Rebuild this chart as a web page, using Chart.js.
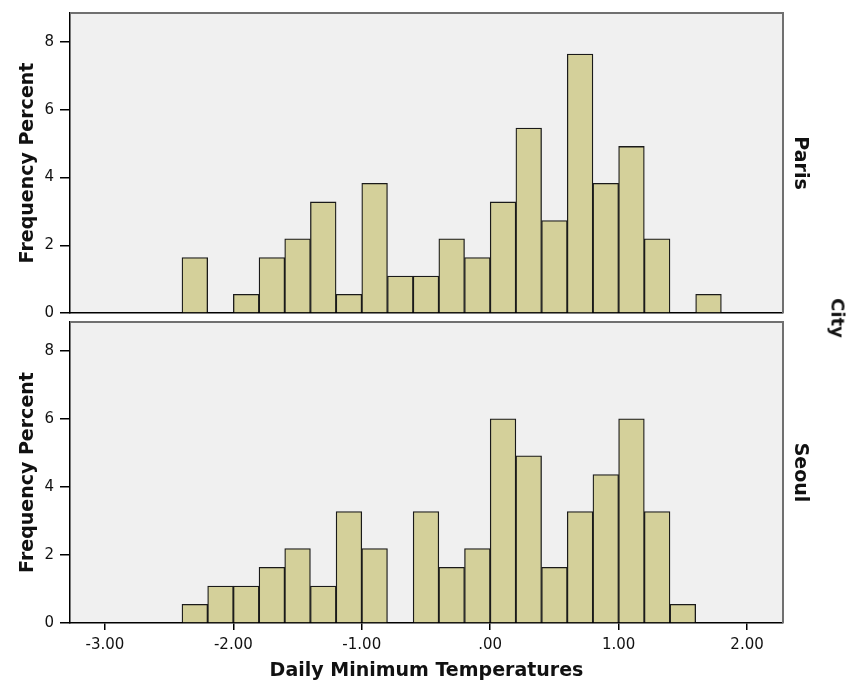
<!DOCTYPE html>
<html><head><meta charset="utf-8">
<script src="https://cdn.jsdelivr.net/npm/chart.js@4"></script>
<style>
html,body{margin:0;padding:0;background:#fff;}
#wrap{position:relative;width:858px;height:687px;overflow:hidden;background:#fff;}
.box{position:absolute;left:0;width:858px;}
#city{position:absolute;left:838px;top:318px;transform:translate(-50%,-50%) rotate(90deg);font:bold 18px "DejaVu Sans";color:#111;white-space:nowrap;}
</style></head><body>
<div id="wrap">
<div class="box" style="top:0;height:318px"><canvas id="paris"></canvas></div>
<div class="box" style="top:318px;height:369px"><canvas id="seoul"></canvas></div>
<div id="city">City</div>
</div>
<script>
// ---- data ----
const binCenters = [-2.3,-2.1,-1.9,-1.7,-1.5,-1.3,-1.1,-0.9,-0.7,-0.5,-0.3,-0.1,0.1,0.3,0.5,0.7,0.9,1.1,1.3,1.5,1.7];
const parisPercent = [1.64,0,0.55,1.64,2.19,3.28,0.55,3.83,1.09,1.09,2.19,1.64,3.28,5.46,2.73,7.65,3.83,4.92,2.19,0,0.55];
const seoulPercent = [0.55,1.09,1.09,1.64,2.19,1.09,3.28,2.19,0,3.28,1.64,2.19,6.01,4.92,1.64,3.28,4.37,6.01,3.28,0.55,0];
const xTickValues = [-3,-2,-1,0,1,2];
const xTickLabels = ['-3.00','-2.00','-1.00','.00','1.00','2.00'];
const yTickValues = [0,2,4,6,8];
const panelNames = ['Paris','Seoul'];
const xTitle = 'Daily Minimum Temperatures';
const yTitle = 'Frequency Percent';

const FONT = 'DejaVu Sans';
Chart.defaults.font.family = FONT;
Chart.defaults.color = '#111';

const framePlugin = {
  id: 'panelFrame',
  beforeDraw(chart) {
    const {ctx, chartArea: a} = chart;
    ctx.save();
    ctx.fillStyle = '#f0f0f0';
    ctx.fillRect(a.left, a.top, a.right - a.left, a.bottom - a.top);
    ctx.restore();
  },
  afterDatasetsDraw(chart) {
    const {ctx, chartArea: a} = chart;
    ctx.save();
    ctx.strokeStyle = '#707070';
    ctx.lineWidth = 2;
    ctx.beginPath();
    ctx.moveTo(a.left, a.top);
    ctx.lineTo(a.right, a.top);
    ctx.lineTo(a.right, a.bottom);
    ctx.stroke();
    ctx.restore();
  }
};

function makePanel(id, values, name, isBottom) {
  const data = binCenters.map((x, i) => ({x: x, y: values[i]}));
  const nonZero = c => c.raw && c.raw.y > 0;
  return new Chart(document.getElementById(id), {
    type: 'bar',
    data: { datasets: [{
      data: data,
      backgroundColor: c => nonZero(c) ? '#d4d09a' : 'rgba(0,0,0,0)',
      borderColor: '#1a1a1a',
      borderWidth: c => nonZero(c) ? 1.3 : 0,
      barPercentage: 1,
      categoryPercentage: 1
    }]},
    options: {
      responsive: true,
      maintainAspectRatio: false,
      animation: false,
      devicePixelRatio: 1,
      layout: { padding: { top: isBottom ? 4 : 13, left: 0, right: 0, bottom: 0 } },
      plugins: { legend: { display: false }, tooltip: { enabled: false } },
      scales: {
        x: {
          type: 'linear',
          z: 1,
          min: -3.272, max: 2.28,
          offset: false,
          afterBuildTicks: s => { s.ticks = xTickValues.map(v => ({value: v})); },
          afterFit: s => { s.height = isBottom ? 64 : 5; s.paddingLeft = 0; s.paddingRight = 0; },
          ticks: {
            display: isBottom,
            font: { size: 15 },
            color: '#111',
            padding: 6,
            maxRotation: 0,
            autoSkip: false,
            callback: (v, i) => xTickLabels[i]
          },
          grid: { display: true, offset: false, drawOnChartArea: false, drawTicks: isBottom, tickLength: 7, color: '#000', lineWidth: 1.5 },
          border: { display: true, color: '#000', width: 1.5 },
          title: { display: isBottom, text: xTitle, font: { size: 19, weight: 'bold' }, color: '#111', padding: { top: 0, bottom: 5 } }
        },
        y: {
          position: 'left',
          z: 1,
          min: 0, max: 8.86,
          afterBuildTicks: s => { s.ticks = yTickValues.map(v => ({value: v})); },
          afterFit: s => { s.width = 70; s.paddingTop = 0; s.paddingBottom = 0; },
          ticks: { font: { size: 15 }, color: '#111', padding: 6, callback: v => String(v) },
          grid: { display: true, drawOnChartArea: false, drawTicks: true, tickLength: 10, color: '#000', lineWidth: 1.5 },
          border: { display: true, color: '#000', width: 1.5 },
          title: { display: true, text: yTitle, font: { size: 19, weight: 'bold' }, color: '#111', padding: { top: 16.5, bottom: 0 } }
        },
        facet: {
          type: 'linear',
          position: 'right',
          min: 0, max: 1,
          afterFit: s => { s.width = 75; s.paddingTop = 0; s.paddingBottom = 0; },
          ticks: { display: false },
          grid: { display: false },
          border: { display: false },
          title: { display: true, text: name, font: { size: 19, weight: 'bold' }, color: '#111', padding: { top: 46.5, bottom: 0 } }
        }
      }
    },
    plugins: [framePlugin]
  });
}

makePanel('paris', parisPercent, panelNames[0], false);
makePanel('seoul', seoulPercent, panelNames[1], true);
</script>
</body></html>
